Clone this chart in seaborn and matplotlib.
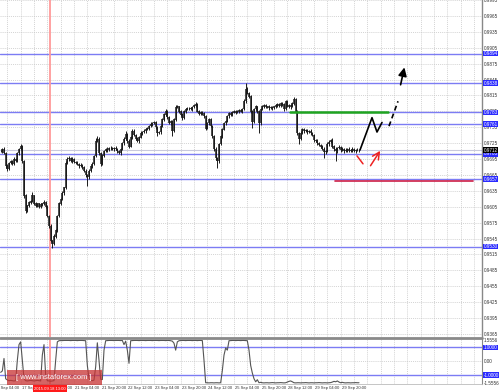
import numpy as np
import pandas as pd
import matplotlib
matplotlib.use("Agg")
import matplotlib.pyplot as plt
import matplotlib.transforms as mtransforms
from matplotlib.patches import Rectangle
import seaborn as sns

sns.set_style("white")
plt.rcParams['font.family'] = ['Liberation Sans', 'DejaVu Sans']

# ---------------- data ----------------
first_bar = 4  # hourly bars, bar 0 = 17 Sep 04:00

closes = [
    0.9710, 0.9714, 0.9706, 0.9682, 0.9676, 0.9688, 0.9691, 0.9686, 0.9695, 0.9691,
    0.9706, 0.9714, 0.9719, 0.9691, 0.9626, 0.9598, 0.9607, 0.9613, 0.9616, 0.9626,
    0.9611, 0.9607, 0.9611, 0.9605, 0.9609, 0.9611, 0.9614, 0.9605, 0.9588, 0.9569,
    0.9541, 0.9536, 0.9549, 0.9560, 0.9588, 0.9611, 0.9620, 0.9631, 0.9641, 0.9688,
    0.9695, 0.9697, 0.9691, 0.9695, 0.9689, 0.9688, 0.9686, 0.9682, 0.9684, 0.9680,
    0.9673, 0.9665, 0.9661, 0.9673, 0.9682, 0.9686, 0.9701, 0.9729, 0.9733, 0.9706,
    0.9686, 0.9701, 0.9710, 0.9714, 0.9712, 0.9716, 0.9716, 0.9714, 0.9716, 0.9714,
    0.9710, 0.9706, 0.9714, 0.9725, 0.9733, 0.9742, 0.9729, 0.9719, 0.9736, 0.9748,
    0.9740, 0.9734, 0.9729, 0.9736, 0.9744, 0.9746, 0.9748, 0.9751, 0.9753, 0.9757,
    0.9761, 0.9763, 0.9764, 0.9755, 0.9744, 0.9746, 0.9757, 0.9770, 0.9779, 0.9785,
    0.9774, 0.9763, 0.9766, 0.9748, 0.9770, 0.9793, 0.9794, 0.9785, 0.9779, 0.9772,
    0.9785, 0.9789, 0.9791, 0.9791, 0.9789, 0.9793, 0.9796, 0.9798, 0.9785, 0.9781,
    0.9783, 0.9781, 0.9776, 0.9753, 0.9763, 0.9770, 0.9757, 0.9738, 0.9714, 0.9697,
    0.9691, 0.9723, 0.9738, 0.9751, 0.9763, 0.9766, 0.9776, 0.9781, 0.9779, 0.9783,
    0.9785, 0.9783, 0.9785, 0.9787, 0.9785, 0.9789, 0.9804, 0.9826, 0.9819, 0.9813,
    0.9785, 0.9766, 0.9789, 0.9794, 0.9785, 0.9763, 0.9789, 0.9794, 0.9796, 0.9793,
    0.9794, 0.9791, 0.9793, 0.9791, 0.9794, 0.9796, 0.9798, 0.9796, 0.9800, 0.9798,
    0.9789, 0.9804, 0.9796, 0.9793, 0.9796, 0.9800, 0.9808, 0.9785, 0.9744, 0.9733,
    0.9744, 0.9751, 0.9748, 0.9749, 0.9746, 0.9748, 0.9744, 0.9740, 0.9731, 0.9729,
    0.9725, 0.9721, 0.9719, 0.9714, 0.9708, 0.9710, 0.9723, 0.9727, 0.9731, 0.9719,
    0.9714, 0.9710, 0.9716, 0.9718, 0.9712, 0.9714, 0.9710, 0.9712, 0.9714, 0.9710,
    0.9712, 0.9714, 0.9710, 0.9712, 0.9712, 0.9712,
]

upper_wick_pips = [
    3, 2, 3, 2, 4, 2, 3, 2, 3, 2,
    3, 2, 4, 3, 2, 3, 2, 3, 2, 6,
    2, 3, 2, 2, 3, 2, 3, 2, 3, 2,
    3, 2, 4, 3, 2, 3, 2, 3, 2, 3,
    4, 3, 2, 3, 2, 2, 3, 2, 3, 2,
    2, 3, 2, 3, 2, 3, 2, 5, 5, 3,
    2, 3, 2, 2, 3, 2, 3, 2, 2, 3,
    2, 3, 2, 3, 4, 5, 2, 3, 3, 4,
    3, 2, 3, 2, 3, 2, 3, 2, 3, 2,
    3, 2, 3, 2, 3, 2, 3, 2, 3, 4,
    2, 3, 2, 3, 2, 4, 3, 2, 3, 2,
    3, 2, 3, 2, 3, 2, 3, 4, 2, 3,
    2, 3, 2, 3, 2, 3, 2, 3, 2, 3,
    2, 3, 2, 3, 2, 3, 2, 3, 2, 3,
    2, 3, 2, 3, 2, 3, 4, 12, 4, 3,
    2, 3, 2, 3, 2, 3, 2, 3, 2, 3,
    2, 3, 2, 3, 2, 3, 2, 3, 2, 3,
    3, 2, 3, 2, 3, 2, 4, 2, 3, 2,
    3, 2, 3, 2, 3, 2, 3, 2, 3, 2,
    3, 2, 3, 2, 3, 2, 4, 3, 2, 3,
    2, 3, 2, 3, 2, 3, 2, 3, 2, 3,
    2, 3, 2, 2, 3, 2,
]

lower_wick_pips = [
    2, 3, 2, 3, 4, 2, 3, 2, 3, 2,
    2, 3, 2, 3, 4, 4, 3, 2, 3, 2,
    3, 2, 3, 2, 3, 2, 3, 2, 3, 4,
    3, 8, 3, 2, 3, 2, 3, 2, 3, 2,
    2, 3, 2, 3, 2, 3, 2, 3, 2, 3,
    3, 4, 16, 3, 2, 3, 2, 3, 2, 3,
    4, 2, 3, 2, 3, 2, 3, 2, 3, 2,
    3, 2, 3, 2, 3, 2, 4, 3, 2, 3,
    2, 3, 2, 3, 2, 3, 2, 3, 2, 3,
    2, 3, 2, 4, 5, 2, 3, 2, 3, 2,
    3, 2, 3, 10, 2, 3, 2, 3, 2, 3,
    2, 3, 2, 3, 2, 3, 2, 3, 2, 3,
    3, 2, 3, 4, 2, 3, 2, 3, 4, 3,
    13, 3, 2, 3, 2, 3, 2, 3, 2, 3,
    2, 3, 2, 3, 2, 3, 2, 3, 2, 3,
    4, 13, 3, 2, 3, 19, 3, 2, 3, 2,
    2, 3, 2, 3, 2, 3, 2, 3, 2, 3,
    3, 2, 3, 2, 3, 2, 3, 3, 4, 10,
    3, 2, 3, 2, 3, 2, 3, 2, 3, 2,
    3, 2, 3, 2, 11, 3, 2, 3, 2, 3,
    3, 19, 3, 2, 3, 2, 3, 2, 3, 2,
    2, 3, 2, 3, 2, 3,
]

indicator = [
    -0.80, -0.70, 0.20, -1.26, -1.35, -1.40, -1.38, -1.40, -1.42, -1.40,
    0.07, 1.20, 1.40, 0.07, -1.26, -1.40, -1.42, -1.40, -1.38, -1.40,
    -1.42, -1.40, -1.38, -1.40, -1.42, 0.45, 1.20, -1.04, -1.40, -1.42,
    -1.44, -1.42, -1.40, 0.07, 1.40, 1.48, 1.49, 1.49, 1.50, 1.50,
    1.50, 1.50, 1.49, 1.50, 1.50, 1.50, 1.49, 1.50, 1.50, 1.50,
    1.49, 1.48, -0.30, -1.26, -1.38, -1.40, -1.36, -0.40, 1.33, 0.07,
    -1.30, -1.32, 0.80, 1.48, 1.49, 1.50, 1.50, 1.50, 1.49, 1.50,
    1.50, 1.50, 1.49, 1.50, 1.20, 1.45, 0.80, -0.15, 1.48, 1.49,
    1.50, 1.50, 1.50, 1.49, 1.50, 1.50, 1.50, 1.49, 1.50, 1.50,
    1.50, 1.49, 1.50, 1.50, 1.50, 1.49, 1.50, 1.50, 1.50, 1.49,
    1.50, 1.50, 1.48, 1.45, 1.30, 0.80, 1.40, 1.48, 1.49, 1.50,
    1.50, 1.49, 1.50, 1.50, 1.50, 1.49, 1.50, 1.50, 1.49, 1.50,
    1.50, 1.49, 0.07, -1.55, -1.55, -1.56, -1.55, -1.55, -1.56, -1.55,
    -1.55, -1.56, -1.55, -0.67, 0.44, 0.96, 0.80, 1.48, 1.49, 1.50,
    1.50, 1.49, 1.50, 1.50, 1.49, 1.50, 1.50, 1.49, 1.48, 0.80,
    -0.30, -0.85, -1.26, -1.48, -1.33, -1.55, -1.52, -1.55, -1.56, -1.55,
    -1.55, -1.56, -1.55, -1.54, -1.55, -1.56, -1.55, -1.55, -1.54, -1.55,
    -1.56, -1.55, -1.50, -1.45, -1.42, -1.48, -1.55, -1.56, -1.55, -1.55,
    -1.56, -1.55, -1.55, -1.54, -1.55, -1.56, -1.55, -1.55, -1.56, -1.55,
    -1.55, -1.54, -1.55, -1.56, -1.55, -1.55, -1.56, -1.55, -1.54, -1.50,
    -1.45, -1.48, -1.42, -1.50, -1.55, -1.52, -1.55, -1.56, -1.55, -1.55,
    -1.56, -1.55, -1.55, -1.54, -1.55, -1.55,
]

date_labels = ["17 Sep 04:00", "17 Sep 20:00", "18 Sep 12:00", "21 Sep 04:00",
               "21 Sep 20:00", "22 Sep 12:00", "23 Sep 04:00", "23 Sep 20:00",
               "24 Sep 12:00", "25 Sep 04:00", "25 Sep 20:00", "28 Sep 12:00",
               "29 Sep 04:00", "29 Sep 20:00"]
bars_per_label = 16

price_ticks = [0.9995, 0.9965, 0.9935, 0.9905, 0.9875, 0.9845, 0.9815, 0.9785,
               0.9755, 0.9725, 0.9695, 0.9665, 0.9635, 0.9605, 0.9575, 0.9545,
               0.9515, 0.9485, 0.9455, 0.9425, 0.9395, 0.9365]
level_prices = [0.9894, 0.9838, 0.9783, 0.9761, 0.9705, 0.9657, 0.9530]
bid_price = 0.9712
green_level = (177.6, 236.4, 0.9784)     # start bar, end bar, price
red_level = (204.6, 287.4, 0.9654)
marker_bar = 33.6
marker_label = "2015.09.18 13:00"

ind_ticks = [1.5556, 0.0, -1.5556]
ind_tick_labels = ["1.5556", "0.00", "-1.5556"]
ind_levels = [1.0, -1.0]
ind_level_labels = ["1.0000", "-1.0000"]

# forecast paths (bar, price)
black_path = [(219.6, 0.9712), (226.8, 0.9773), (229.8, 0.9746), (232.8, 0.9764)]
black_dash = [(237.0, 0.9757), (242.4, 0.9804)]
black_arrow = [(243.6, 0.9830), (246.6, 0.9873)]
red_seg1 = [(217.8, 0.9701), (221.4, 0.9686)]
red_seg2 = [(225.0, 0.9678), (232.6, 0.9715)]

# ---------------- figure ----------------
W, H = 500, 392
fig = plt.figure(figsize=(W / 100, H / 100), dpi=100)
fig.patch.set_facecolor("white")

def fx(x):
    return x / W

def fy(y):
    return 1 - y / H

ax = fig.add_axes([0, fy(336.5), fx(482), 336.5 / H])
axi = fig.add_axes([0, fy(384), fx(482), (384 - 338.5) / H])

xlim = (3.6, 292.8)
grid_kw = dict(color="#c4c4c4", lw=0.5, ls=(0, (1.5, 1.5)), zorder=0)
lab_fs = 3.3

n = len(closes)
bars = np.arange(first_bar, first_bar + n)
df = pd.DataFrame({"bar": bars, "close": closes,
                   "up": upper_wick_pips, "lo": lower_wick_pips,
                   "ind": indicator})
df["open"] = df["close"].shift(1).fillna(df["close"].iloc[0])
df["high"] = np.maximum(df["open"], df["close"]) + df["up"] * 0.0001
df["low"] = np.minimum(df["open"], df["close"]) - df["lo"] * 0.0001

# ---- main panel ----
ax.set_xlim(*xlim)
ax.set_ylim(0.936031, 0.999125)
for t in price_ticks:
    ax.axhline(t, **grid_kw)
for b in range(0, 300, 8):
    ax.axvline(b, **grid_kw)

for p in level_prices:
    ax.axhline(p, color="#7c7cf4", lw=1.0, zorder=1)
ax.axhline(bid_price, color="#c9c9dc", lw=0.8, zorder=1)

ax.vlines(df["bar"], df["low"], df["high"], color="#1a1a1a", lw=0.7, zorder=3)
ax.vlines(df["bar"], df[["open", "close"]].min(axis=1) - 0.00004,
          df[["open", "close"]].max(axis=1) + 0.00004, color="#1a1a1a", lw=1.1, zorder=3)

ax.axvline(marker_bar, color="#ff9a9a", lw=1.3, zorder=2)
ax.plot([green_level[0], green_level[1]], [green_level[2]] * 2, color="#1fa51f", lw=1.8, zorder=4)
ax.plot([red_level[0], red_level[1]], [red_level[2]] * 2, color="#cc1f48", lw=1.2, zorder=4)

bx, by = zip(*black_path)
ax.plot(bx, by, color="black", lw=1.2, zorder=5)
dx, dy = zip(*black_dash)
ax.plot(dx, dy, color="black", lw=1.2, ls=(0, (3, 2)), zorder=5)
ax.annotate("", xy=black_arrow[1], xytext=black_arrow[0],
            arrowprops=dict(arrowstyle="-|>,head_width=0.25,head_length=0.5", color="black", lw=1.2))
r1x, r1y = zip(*red_seg1)
ax.plot(r1x, r1y, color="#ee2222", lw=1.1, zorder=5)
ax.annotate("", xy=red_seg2[1], xytext=red_seg2[0],
            arrowprops=dict(arrowstyle="->,head_width=0.25,head_length=0.5", color="#ee2222", lw=1.1))

ax.set_xticks([])
ax.yaxis.tick_right()
ax.set_yticks(price_ticks)
ax.set_yticklabels([f"{t:.4f}" for t in price_ticks])
ax.tick_params(axis="y", length=0, pad=1.2, labelsize=lab_fs, labelcolor="#333333")
for s in ["top", "left", "bottom"]:
    ax.spines[s].set_visible(False)
ax.spines["right"].set_color("#888888")
ax.spines["right"].set_linewidth(1.0)

trans = mtransforms.blended_transform_factory(ax.transAxes, ax.transData)
for p in level_prices:
    ax.text(1.0035, p, f"{p:.4f}", transform=trans, fontsize=lab_fs, color="white",
            va="center", ha="left", clip_on=False, zorder=10,
            bbox=dict(boxstyle="square,pad=0.08", fc="#2a2aff", ec="none"))
ax.text(1.0035, bid_price, f"{bid_price:.4f}", transform=trans, fontsize=lab_fs, color="white",
        va="center", ha="left", clip_on=False, zorder=10,
        bbox=dict(boxstyle="square,pad=0.08", fc="black", ec="none"))

# ---- indicator panel ----
axi.set_xlim(*xlim)
axi.set_ylim(-1.64, 1.64)
for b in range(0, 300, 8):
    axi.axvline(b, **grid_kw)
axi.axhline(0, **grid_kw)
for lv in ind_levels:
    axi.axhline(lv, color="#7c7cf4", lw=1.0, zorder=1)
axi.axvline(marker_bar, color="#ff9a9a", lw=1.3, zorder=2)
sns.lineplot(data=df, x="bar", y="ind", ax=axi, color="#555555", lw=0.8, zorder=3)
axi.set_xlabel("")
axi.set_ylabel("")
axi.set_xticks([])
axi.yaxis.tick_right()
axi.set_yticks(ind_ticks)
axi.set_yticklabels(ind_tick_labels)
axi.tick_params(axis="y", length=0, pad=1.2, labelsize=lab_fs, labelcolor="#333333")
for s in ["top", "left"]:
    axi.spines[s].set_visible(False)
axi.spines["right"].set_color("#888888")
axi.spines["bottom"].set_color("#bbbbbb")
axi.spines["bottom"].set_linewidth(0.6)
transi = mtransforms.blended_transform_factory(axi.transAxes, axi.transData)
for lv, lab in zip(ind_levels, ind_level_labels):
    axi.text(1.0035, lv, lab, transform=transi, fontsize=lab_fs, color="white",
             va="center", ha="left", clip_on=False, zorder=10,
             bbox=dict(boxstyle="square,pad=0.08", fc="#2a2aff", ec="none"))

# panel separator
fig.add_artist(plt.Line2D([0, fx(482)], [fy(337.5), fy(337.5)], color="#8a8a8a", lw=2.0))

# ---- date labels ----
ax_px = lambda b: (b - xlim[0]) / (xlim[1] - xlim[0]) * 482
for k, lab in enumerate(date_labels):
    xp = ax_px(k * bars_per_label)
    fig.text(fx(xp + 1), fy(388.5), lab, fontsize=3.0, color="#333333",
             ha="left", va="center")
mx = ax_px(marker_bar)
fig.text(fx(mx), fy(388.5), marker_label, fontsize=3.0, color="white", ha="center",
         va="center", zorder=20,
         bbox=dict(boxstyle="square,pad=0.3", fc="#ff1a1a", ec="none"))

# ---- watermark ----
fig.patches.append(Rectangle((fx(7), fy(385)), fx(95), 15 / H, transform=fig.transFigure,
                             fc="#c83232", ec="none", alpha=0.75, zorder=15))
fig.text(fx(54), fy(377.5), "[ www.instaforex.com ]", fontsize=5.4, color="white",
         ha="center", va="center", zorder=16)

fig.savefig("out.png", dpi=100, facecolor="white")
